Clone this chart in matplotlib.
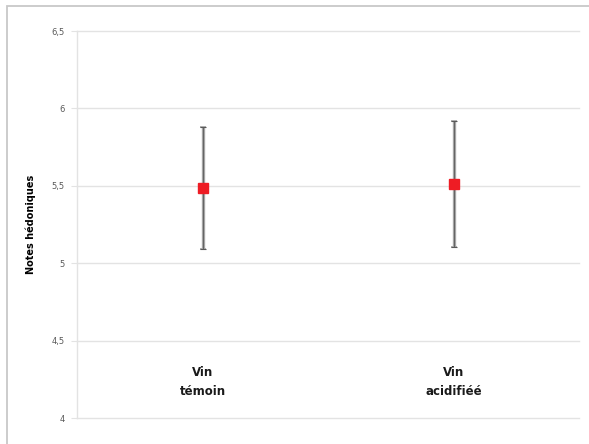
import matplotlib.pyplot as plt
from matplotlib.patches import Rectangle
from matplotlib.ticker import FuncFormatter

# --- Data ---
categories = ['Vin\ntémoin', 'Vin\nacidifiéé']
means = [5.485, 5.512]
err_low = [5.090, 5.105]
err_high = [5.882, 5.920]

x = [1, 2]
yerr = [[m - lo for m, lo in zip(means, err_low)],
        [hi - m for m, hi in zip(means, err_high)]]

fig = plt.figure(figsize=(5.89, 4.44), dpi=100)
ax = fig.add_axes([77 / 589, 26 / 444, 502 / 589, 387 / 444])

# outer chart frame (cropped on right/bottom)
fig.patches.append(Rectangle((7 / 589, -0.1), 1.2, (438 / 444) + 0.1,
                             transform=fig.transFigure, fill=False,
                             edgecolor='#c8c8c8', linewidth=1.3))

# error bars: light grey body with a thin dark core
ax.errorbar(x, means, yerr=yerr, fmt='none', ecolor='#a6a6a6',
            elinewidth=2.4, capsize=2.5, capthick=1.2, zorder=3)
ax.errorbar(x, means, yerr=yerr, fmt='none', ecolor='#595959',
            elinewidth=0.6, capsize=2.5, capthick=0.8, zorder=3)
ax.plot(x, means, linestyle='none', marker='s', markersize=7.5,
        color='#ee1c24', zorder=4)

for xi, lab in zip(x, categories):
    ax.text(xi, 4.23, lab, ha='center', va='center', fontsize=8.5,
            fontweight='bold', linespacing=1.6, color='#1a1a1a')

ax.set_xlim(0.5, 2.5)
ax.set_ylim(4, 6.5)
ax.set_yticks([4, 4.5, 5, 5.5, 6, 6.5])
ax.yaxis.set_major_formatter(FuncFormatter(
    lambda v, p: ('%g' % v).replace('.', ',')))
ax.set_xticks([])
ax.tick_params(axis='y', labelsize=6, labelcolor='#595959', length=4,
               width=0.8, pad=5, color='#e3e3e3')
ax.grid(axis='y', color='#e3e3e3', linewidth=1.0)
ax.set_axisbelow(True)
for gl in ax.get_ygridlines():
    gl.set_clip_on(False)
for s in ['top', 'right', 'bottom']:
    ax.spines[s].set_visible(False)
ax.spines['left'].set_color('#e3e3e3')
ax.spines['left'].set_linewidth(1.0)

ax.set_ylabel('Notes hédoniques', fontsize=7, fontweight='bold', labelpad=11)

fig.savefig('out.png', dpi=100)
